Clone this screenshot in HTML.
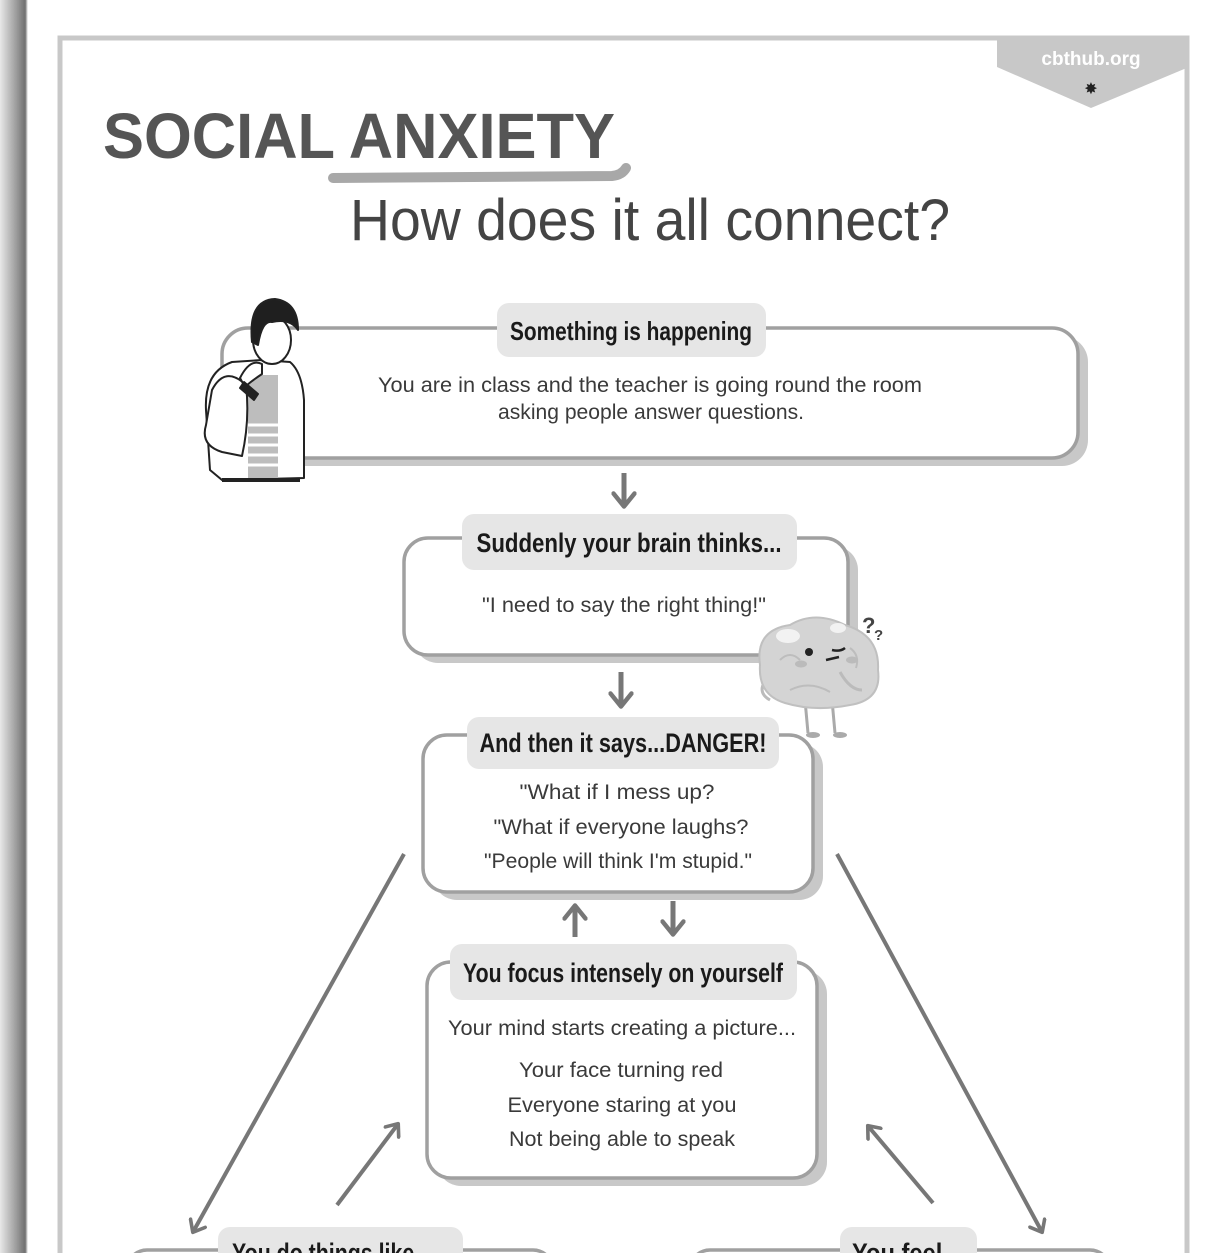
<!DOCTYPE html>
<html><head><meta charset="utf-8"><style>
html,body{margin:0;padding:0;background:#fff;width:1217px;height:1253px;overflow:hidden}
svg{display:block}
.h{font-family:"Liberation Sans Narrow","Liberation Sans",sans-serif;font-weight:bold;fill:#1a1a1a}
.b{font-family:"Liberation Sans",sans-serif;fill:#3a3a3a}
</style></head><body>
<svg width="1217" height="1253" viewBox="0 0 1217 1253" xmlns="http://www.w3.org/2000/svg">
<defs>
<linearGradient id="lg" x1="0" x2="1" y1="0" y2="0">
<stop offset="0" stop-color="#e8e8e8"/><stop offset="0.6" stop-color="#9a9a9a"/><stop offset="0.9" stop-color="#707070"/><stop offset="1" stop-color="#ffffff"/>
</linearGradient>
<marker id="ah" viewBox="0 0 10 10" refX="6" refY="5" markerWidth="5" markerHeight="5" orient="auto-start-reverse">
<path d="M1,0.8 L6.2,5 L1,9.2" fill="none" stroke="#777" stroke-width="1.8" stroke-linecap="round" stroke-linejoin="round"/>
</marker>
</defs>
<rect x="0" y="0" width="28" height="1253" fill="url(#lg)"/>
<rect x="60" y="38" width="1127" height="1260" fill="none" stroke="#c8c8c8" stroke-width="5"/>
<polygon points="997,36 1189,36 1189,67 1091,108 997,67" fill="#c8c8c8"/>
<text x="1091" y="65" text-anchor="middle" font-family="Liberation Sans,sans-serif" font-weight="bold" font-size="19" fill="#fff">cbthub.org</text>
<text x="1091" y="94" text-anchor="middle" font-family="DejaVu Sans,sans-serif" font-size="16" fill="#222">✸</text>
<text x="103" y="158" font-family="Liberation Sans,sans-serif" font-weight="bold" font-size="64" fill="#555" textLength="512" lengthAdjust="spacingAndGlyphs">SOCIAL ANXIETY</text>
<path d="M333,178 L612,176 Q622,175 626,168" fill="none" stroke="#a8a8a8" stroke-width="10" stroke-linecap="round"/>
<text x="350" y="240" font-family="Liberation Sans Narrow,Liberation Sans,sans-serif" font-size="58" fill="#444" textLength="600" lengthAdjust="spacingAndGlyphs">How does it all connect?</text>

<rect x="232" y="336" width="856" height="130" rx="26" fill="#c8c8c8"/>
<rect x="222" y="328" width="856" height="130" rx="26" fill="#fff" stroke="#a0a0a0" stroke-width="3.5"/>
<rect x="497" y="303" width="269" height="54" rx="12" fill="#e6e6e6"/>
<text x="631" y="340" text-anchor="middle" class="h" font-size="26" textLength="242" lengthAdjust="spacingAndGlyphs">Something is happening</text>
<text x="650" y="392" text-anchor="middle" class="b" font-size="21" textLength="544" lengthAdjust="spacingAndGlyphs">You are in class and the teacher is going round the room</text>
<text x="651" y="419" text-anchor="middle" class="b" font-size="21" textLength="306" lengthAdjust="spacingAndGlyphs">asking people answer questions.</text>

<g stroke="#222" stroke-width="2" stroke-linejoin="round">
<path d="M210,470 L206,410 Q204,372 232,362 L262,360 L290,362 Q302,372 304,400 L304,478 L222,480 Z" fill="#fff"/>
<rect x="248" y="375" width="30" height="105" fill="#bdbdbd" stroke="none"/>
<g stroke="#fff" stroke-width="3"><line x1="248" y1="425" x2="278" y2="425"/><line x1="248" y1="435" x2="278" y2="435"/><line x1="248" y1="445" x2="278" y2="445"/><line x1="248" y1="455" x2="278" y2="455"/><line x1="248" y1="465" x2="278" y2="465"/></g>
<path d="M222,480 L300,480" stroke-width="4"/>
<path d="M206,425 Q200,445 222,452 L242,456 Q250,420 246,385 Q225,365 212,390 Z" fill="#fff"/>
<ellipse cx="272" cy="340" rx="19" ry="24" fill="#fff"/>
<path d="M252,342 Q248,300 275,299 Q298,302 298,330 Q290,318 272,322 Q262,320 258,345 Z" fill="#1f1f1f"/>
<path d="M240,378 Q250,358 262,364 L262,374 Q250,382 245,387 Z" fill="#fff"/>
<path d="M244,382 L258,394 L254,400 L240,388 Z" fill="#222"/>
</g>

<line x1="624" y1="473" x2="624" y2="506" stroke="#777" stroke-width="5" marker-end="url(#ah)"/>

<rect x="414" y="546" width="444" height="117" rx="24" fill="#c8c8c8"/>
<rect x="404" y="538" width="444" height="117" rx="24" fill="#fff" stroke="#a0a0a0" stroke-width="3.5"/>
<rect x="462" y="514" width="335" height="56" rx="12" fill="#e6e6e6"/>
<text x="629" y="552" text-anchor="middle" class="h" font-size="27" textLength="305" lengthAdjust="spacingAndGlyphs">Suddenly your brain thinks...</text>
<text x="624" y="612" text-anchor="middle" class="b" font-size="21" textLength="284" lengthAdjust="spacingAndGlyphs">"I need to say the right thing!"</text>

<g>
<line x1="805" y1="700" x2="808" y2="733" stroke="#aaa" stroke-width="3"/>
<line x1="832" y1="700" x2="835" y2="733" stroke="#aaa" stroke-width="3"/>
<ellipse cx="813" cy="735" rx="7" ry="3" fill="#aaa"/><ellipse cx="840" cy="735" rx="7" ry="3" fill="#aaa"/>
<path d="M775,670 Q752,690 770,700" fill="none" stroke="#bbb" stroke-width="3"/>
<path d="M760,665 Q755,630 790,625 Q815,610 845,625 Q880,635 878,670 Q882,700 850,705 Q815,712 785,703 Q758,695 760,665 Z" fill="#d4d4d4" stroke="#c0c0c0" stroke-width="2"/>
<ellipse cx="788" cy="636" rx="12" ry="7" fill="#f2f2f2"/>
<ellipse cx="838" cy="628" rx="8" ry="5" fill="#f2f2f2"/>
<path d="M780,660 Q790,650 800,660 M850,648 Q860,655 856,668 M790,690 Q810,680 830,692" fill="none" stroke="#bdbdbd" stroke-width="2"/>
<circle cx="809" cy="652" r="4" fill="#222"/>
<path d="M826,660 L839,657 M832,650 Q840,652 845,648" stroke="#222" stroke-width="2.5" fill="none"/>
<ellipse cx="801" cy="664" rx="6" ry="3.5" fill="#bbb"/><ellipse cx="852" cy="660" rx="6" ry="3.5" fill="#bbb"/>
<path d="M840,672 Q850,690 862,690" fill="none" stroke="#bbb" stroke-width="3"/>
<text x="862" y="633" font-family="Liberation Sans,sans-serif" font-weight="bold" font-size="22" fill="#444">?</text>
<text x="874" y="640" font-family="Liberation Sans,sans-serif" font-weight="bold" font-size="15" fill="#444">?</text>
</g>

<line x1="621" y1="672" x2="621" y2="706" stroke="#777" stroke-width="5" marker-end="url(#ah)"/>

<rect x="433" y="743" width="390" height="157" rx="24" fill="#c8c8c8"/>
<rect x="423" y="735" width="390" height="157" rx="24" fill="#fff" stroke="#a0a0a0" stroke-width="3.5"/>
<rect x="467" y="717" width="312" height="52" rx="12" fill="#e6e6e6"/>
<text x="623" y="752" text-anchor="middle" class="h" font-size="27" textLength="287" lengthAdjust="spacingAndGlyphs">And then it says...DANGER!</text>
<text x="617" y="799" text-anchor="middle" class="b" font-size="21" textLength="195" lengthAdjust="spacingAndGlyphs">"What if I mess up?</text>
<text x="621" y="834" text-anchor="middle" class="b" font-size="21" textLength="255" lengthAdjust="spacingAndGlyphs">"What if everyone laughs?</text>
<text x="618" y="868" text-anchor="middle" class="b" font-size="21" textLength="268" lengthAdjust="spacingAndGlyphs">"People will think I'm stupid."</text>

<line x1="575" y1="937" x2="575" y2="906" stroke="#777" stroke-width="5" marker-end="url(#ah)"/>
<line x1="673" y1="901" x2="673" y2="934" stroke="#777" stroke-width="5" marker-end="url(#ah)"/>

<rect x="437" y="970" width="390" height="216" rx="24" fill="#c8c8c8"/>
<rect x="427" y="962" width="390" height="216" rx="24" fill="#fff" stroke="#a0a0a0" stroke-width="3.5"/>
<rect x="450" y="944" width="347" height="56" rx="12" fill="#e6e6e6"/>
<text x="623" y="982" text-anchor="middle" class="h" font-size="27" textLength="320" lengthAdjust="spacingAndGlyphs">You focus intensely on yourself</text>
<text x="622" y="1035" text-anchor="middle" class="b" font-size="21" textLength="348" lengthAdjust="spacingAndGlyphs">Your mind starts creating a picture...</text>
<text x="621" y="1077" text-anchor="middle" class="b" font-size="21" textLength="204" lengthAdjust="spacingAndGlyphs">Your face turning red</text>
<text x="622" y="1112" text-anchor="middle" class="b" font-size="21" textLength="229" lengthAdjust="spacingAndGlyphs">Everyone staring at you</text>
<text x="622" y="1146" text-anchor="middle" class="b" font-size="21" textLength="226" lengthAdjust="spacingAndGlyphs">Not being able to speak</text>

<line x1="404" y1="854" x2="193" y2="1232" stroke="#777" stroke-width="4" marker-end="url(#ah)"/>
<line x1="337" y1="1205" x2="398" y2="1124" stroke="#777" stroke-width="4" marker-end="url(#ah)"/>
<line x1="837" y1="854" x2="1042" y2="1232" stroke="#777" stroke-width="4" marker-end="url(#ah)"/>
<line x1="933" y1="1203" x2="868" y2="1126" stroke="#777" stroke-width="4" marker-end="url(#ah)"/>

<rect x="127" y="1250" width="426" height="60" rx="20" fill="#fff" stroke="#a0a0a0" stroke-width="3.5"/>
<rect x="218" y="1227" width="245" height="60" rx="12" fill="#e6e6e6"/>
<text x="232" y="1262" class="h" font-size="27" textLength="200" lengthAdjust="spacingAndGlyphs">You do things like...</text>
<rect x="690" y="1250" width="420" height="60" rx="20" fill="#fff" stroke="#a0a0a0" stroke-width="3.5"/>
<rect x="840" y="1227" width="137" height="60" rx="12" fill="#e6e6e6"/>
<text x="852" y="1262" class="h" font-size="27" textLength="110" lengthAdjust="spacingAndGlyphs">You feel...</text>
</svg>
</body></html>
